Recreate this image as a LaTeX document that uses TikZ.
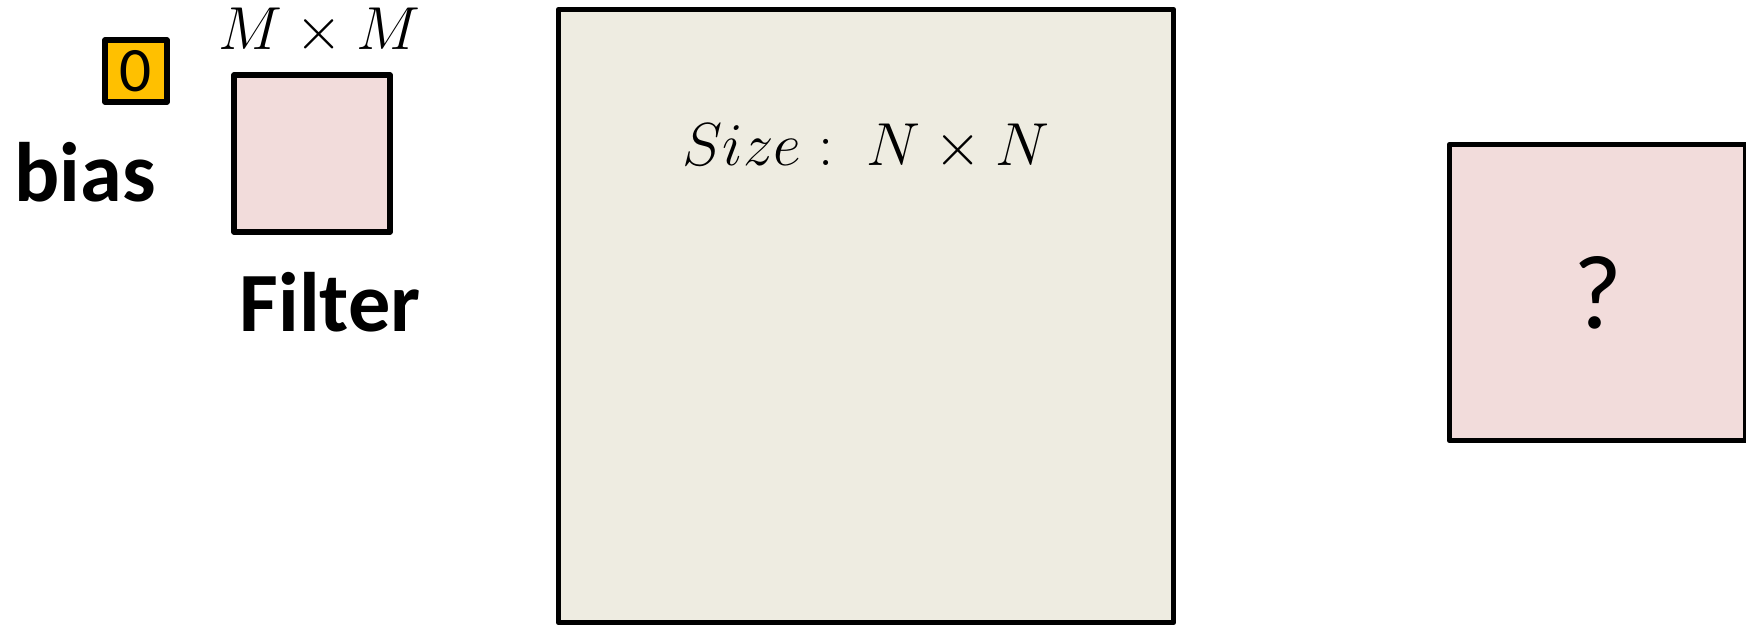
\documentclass[tikz,border=0pt]{standalone}
\usepackage{fontspec}
\setmainfont{Carlito}
\usepackage{tikz}
\usetikzlibrary{positioning}
\definecolor{biasyellow}{HTML}{FFC000}
\definecolor{filterpink}{HTML}{F2DCDB}
\definecolor{inputbeige}{HTML}{EEECE1}

\begin{document}
\begin{tikzpicture}[
                box/.style={draw=black, line width=1.5pt, line join=round, rectangle, inner sep=0pt},
                biasbox/.style={box, fill=biasyellow, minimum size=0.62cm, font=\fontsize{18}{20}\selectfont},
                filterbox/.style={box, fill=filterpink, minimum width=1.56cm, minimum height=1.57cm},
                inputbox/.style={box, fill=inputbeige, minimum width=6.15cm, minimum height=6.13cm},
                outputbox/.style={box, fill=filterpink, minimum size=2.96cm, font=\fontsize{30}{34}\selectfont},
                boldlabel/.style={inner sep=0pt, font=\fontsize{24}{28}\selectfont\bfseries},
                mathlabel/.style={inner sep=0pt, font=\fontsize{17}{20}\selectfont}
            ]
            \useasboundingbox (0,0) rectangle (17.46,-6.26);

            % Filter mit Bias
            \node[biasbox] (bias) at (1.36,-0.71) {0};
            \node[boldlabel] (biaslabel) at (0.85,-1.72) {bias};
            \node[filterbox] (filter) at (3.12,-1.535) {};
            \node[mathlabel, above=0.17cm of filter, xshift=0.07cm] (filtersize) {$M \times M$};
            \node[boldlabel] (filterlabel) at (3.30,-3.02) {Filter};

            % Eingabe
            \node[inputbox] (input) at (8.66,-3.16) {};
            \node[mathlabel, font=\fontsize{18}{21}\selectfont] (inputsize) at (8.66,-1.47) {$Size : \; N \times N$};

            % Ausgabe
            \node[outputbox] (output) at (15.975,-2.925) {?};

        \end{tikzpicture}
\end{document}
